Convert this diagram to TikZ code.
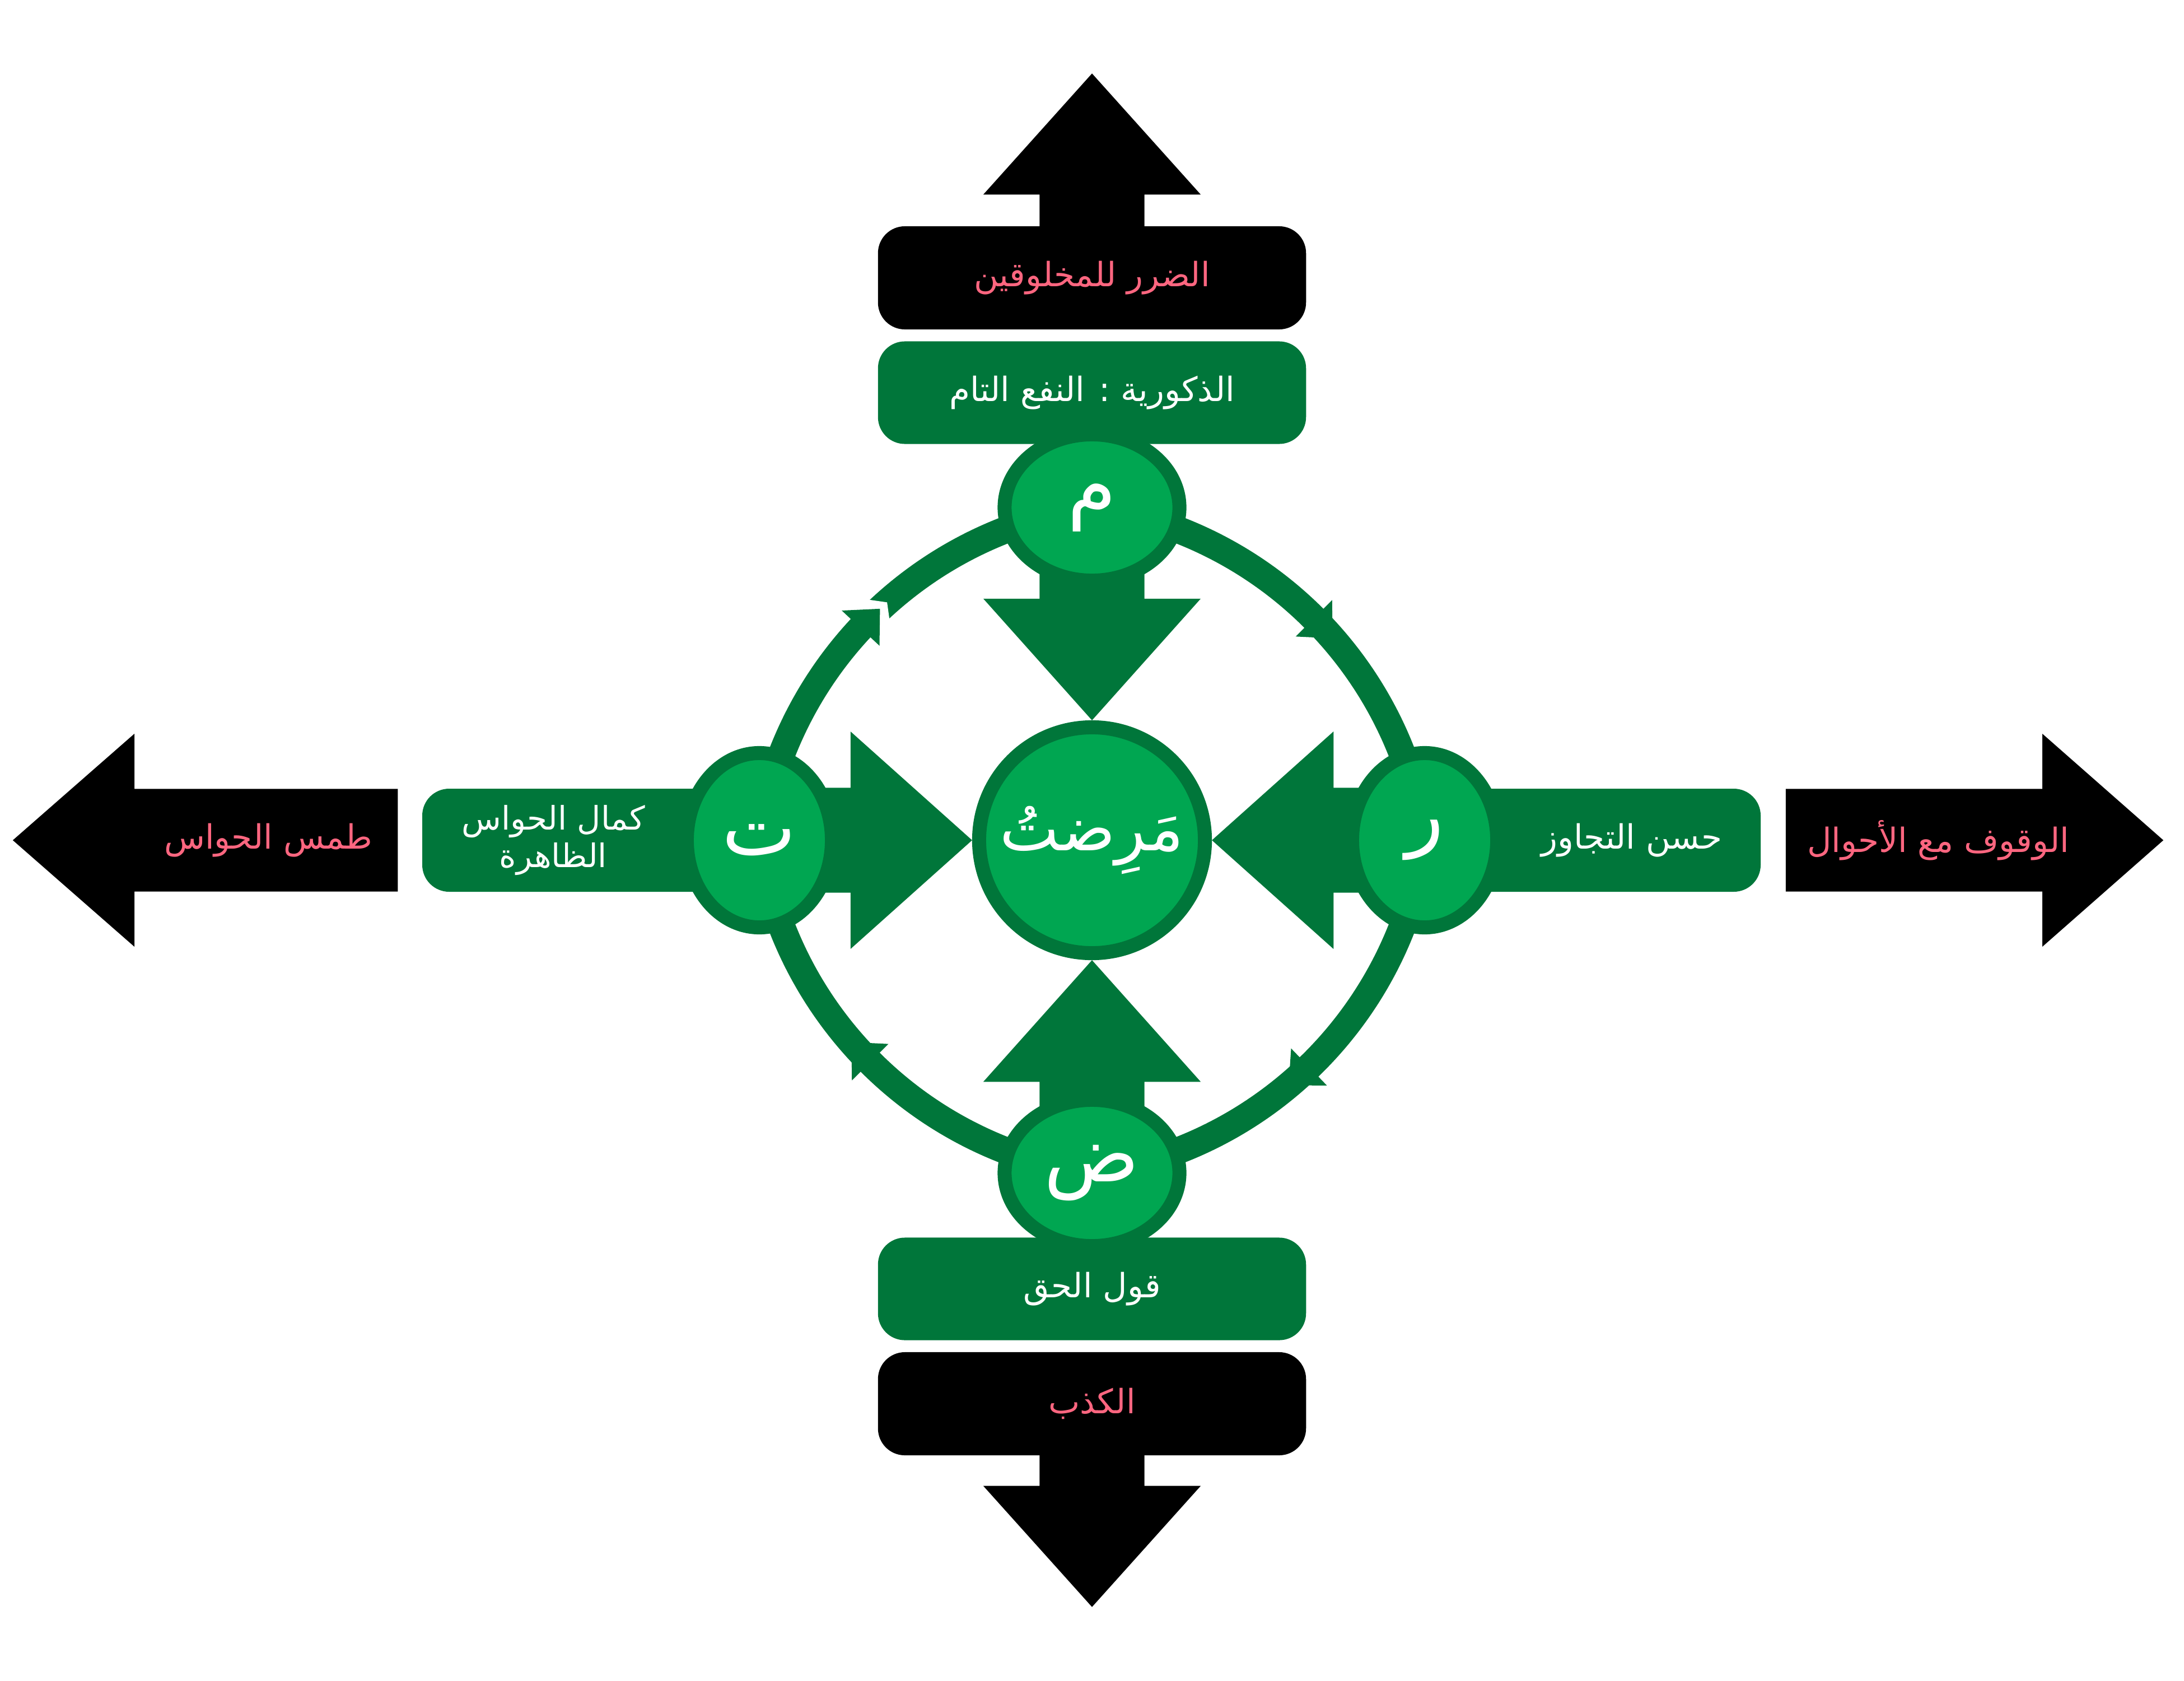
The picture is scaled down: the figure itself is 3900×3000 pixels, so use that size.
\documentclass[tikz,border=0pt]{standalone}
\usepackage{fontspec}
\newfontfamily\ar[Script=Arabic]{DejaVu Sans}
\TeXXeTstate=1
\usetikzlibrary{shapes.geometric}
\definecolor{dg}{RGB}{0,118,58}
\definecolor{lg}{RGB}{0,166,81}
\definecolor{pk}{RGB}{255,102,128}
\tikzset{
  vball/.style={ellipse, fill=lg, draw=dg, line width=0.25cm, minimum width=3.12cm, minimum height=2.61cm, inner sep=0pt, text=white, font=\ar\fontsize{40}{44}\selectfont},
  hball/.style={ellipse, fill=lg, draw=dg, line width=0.25cm, minimum width=2.59cm, minimum height=3.11cm, inner sep=0pt, text=white, font=\ar\fontsize{40}{44}\selectfont},
  bigc/.style={circle, fill=lg, draw=dg, line width=0.25cm, minimum size=4.03cm, inner sep=0pt, text=white, font=\ar\fontsize{32}{36}\selectfont},
  gboxn/.style={fill=dg, rounded corners=0.48cm, minimum width=7.64cm, minimum height=1.83cm, inner sep=0pt, text=white, font=\ar\fontsize{17}{20}\selectfont},
  bboxn/.style={fill=black, rounded corners=0.48cm, minimum width=7.64cm, minimum height=1.84cm, inner sep=0pt, text=pk, font=\ar\fontsize{17}{20}\selectfont},
  wtext/.style={text=white, font=\ar\fontsize{17}{20}\selectfont, inner sep=0pt, align=center},
  ptext/.style={text=pk, font=\ar\fontsize{17}{20}\selectfont, inner sep=0pt},
  ring/.style={draw=dg, line width=0.48cm},
  inarrow/.style={fill=dg},
  outarrow/.style={fill=black},
  sidebox/.style={fill=dg, rounded corners=0.48cm},
}
% inward block arrow toward centre O, coming from direction #1 (canvas angle)
\newcommand\inarr[1]{\fill[inarrow,shift={(O)},rotate=#1] (5.94cm,-0.935cm) -- (4.31cm,-0.935cm) -- (4.31cm,-1.94cm) -- (2.14cm,0cm) -- (4.31cm,1.94cm) -- (4.31cm,0.935cm) -- (5.94cm,0.935cm) -- cycle;}
% outward block arrow: #1 angle, #2 start dist, #3 head base dist, #4 tip dist, #5 stem half, #6 head half
\newcommand\outarr[6]{\fill[outarrow,shift={(O)},rotate=#1] (#2,-#5) -- (#3,-#5) -- (#3,-#6) -- (#4,0cm) -- (#3,#6) -- (#3,#5) -- (#2,#5) -- cycle;}
\begin{document}
\begin{tikzpicture}[x=0.01cm,y=-0.01cm]
\useasboundingbox (0,0) rectangle (3900,3000);
\coordinate (O) at (1950,1500);
\coordinate (pm) at (1950,906);
\coordinate (pt) at (1356,1500);
\coordinate (pr) at (2544,1500);
\coordinate (pd) at (1950,2094);

% cycle: four flat arcs, clockwise, arrowhead mid-way
\begin{scope}[shift={(O)}]
  \foreach \k in {0,90,180,270}{
    \begin{scope}[rotate=\k]
      \draw[ring] (0cm,5.94cm) arc[start angle=81.87, end angle=8.13, radius=7cm];
    \end{scope}
  }
  \begin{scope}[rotate=90, shift={(-0.99cm,-0.99cm)}]
    \fill[white] (45.6:6.35cm) -- (45.6:7.65cm) -- (41.6:7cm) -- cycle;
  \end{scope}
  \foreach \k/\b in {0/45,90/47,180/45,270/44}{
    \begin{scope}[rotate=\k, shift={(-0.99cm,-0.99cm)}]
      \fill[dg] (\b:6.54cm) -- (\b:7.46cm) -- ({\b-4}:7cm) -- cycle;
    \end{scope}
  }
\end{scope}

% inward green arrows
\inarr{90}
\inarr{180}
\inarr{0}
\inarr{270}

% outward black arrows
\outarr{90}{10cm}{11.52cm}{13.68cm}{0.935cm}{1.94cm}
\outarr{270}{10cm}{11.52cm}{13.68cm}{0.935cm}{1.94cm}
\outarr{180}{12.39cm}{17.09cm}{19.26cm}{0.915cm}{1.9cm}
\outarr{0}{12.38cm}{16.96cm}{19.12cm}{0.915cm}{1.9cm}

% boxes top and bottom
\node[bboxn] (tb) at (1950,496) {\beginR الضرر للمخلوقين\endR};
\node[gboxn] (tg) at (1950,701) {\beginR الذكورية : النفع التام\endR};
\node[gboxn] (bg) at (1950,2301) {\beginR قول الحق\endR};
\node[bboxn] (bb) at (1950,2506) {\beginR الكذب\endR};

% side green boxes
\fill[sidebox] (754,1408) rectangle (1356,1592);
\fill[sidebox] (2544,1408) rectangle (3144,1592);
\node[wtext, font=\ar\fontsize{16.5}{19}\selectfont] (lt) at (988,1500) {\beginR كمال الحواس\endR\\\beginR الظاهرة\endR};
\node[wtext] (rt) at (2914,1500) {\beginR حسن التجاوز\endR};

% side black arrow texts
\node[ptext] (lb) at (479,1500) {\beginR طمس الحواس\endR};
\node[ptext] (rb) at (3461,1500) {\beginR الوقوف مع الأحوال\endR};

% letter balls
\node[vball] (m) at (pm) {\beginR م\endR};
\node[hball] (t) at (pt) {\beginR ت\endR};
\node[hball] (r) at (pr) {\beginR ر\endR};
\node[vball] (d) at (pd) {\beginR ض\endR};

% centre circle
\node[bigc] (c) at (O) {\beginR مَرِضتُ\endR};
\end{tikzpicture}
\end{document}
